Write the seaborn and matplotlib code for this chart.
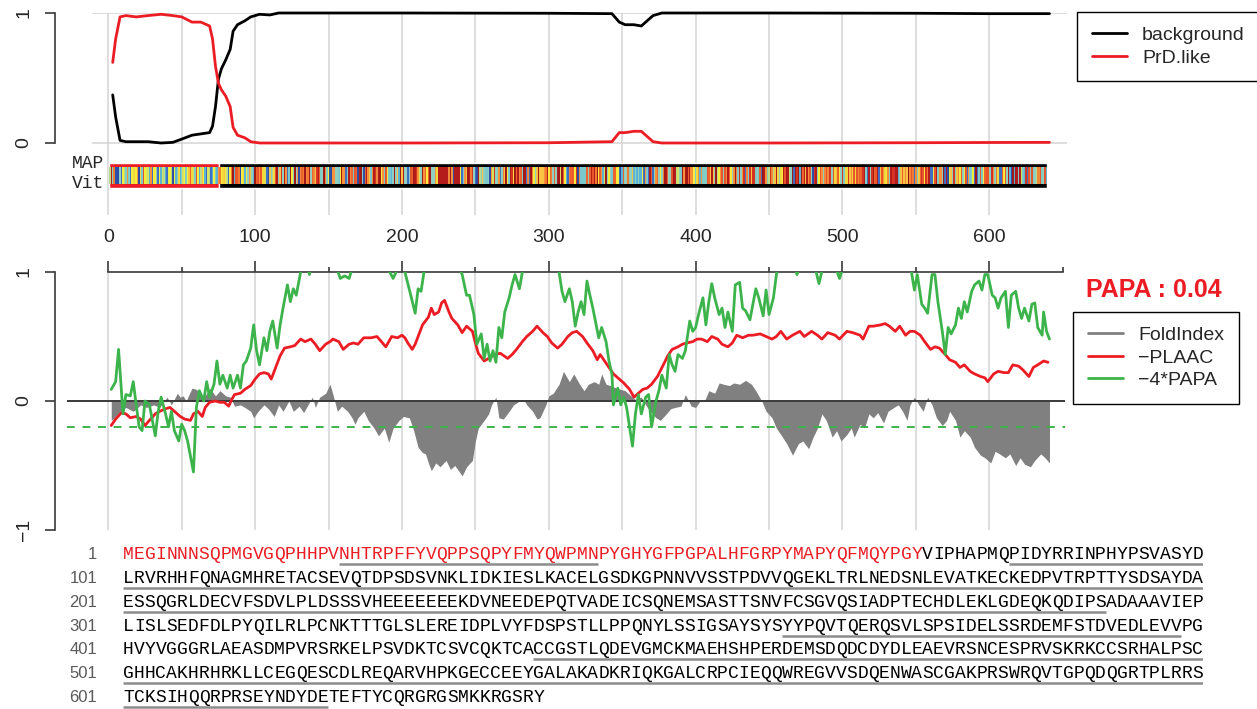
import seaborn as sns
import matplotlib.pyplot as plt
from matplotlib.lines import Line2D
import numpy as np
import pandas as pd

# sequence, 100 residues per printed line
seq_lines = [
    "MEGINNNSQPMGVGQPHHPVNHTRPFFYVQPPSQPYFMYQWPMNPYGHYGFPGPALHFGRPYMAPYQFMQYPGYVIPHAPMQPIDYRRINPHYPSVASYD",
    "LRVRHHFQNAGMHRETACSEVQTDPSDSVNKLIDKIESLKACELGSDKGPNNVVSSTPDVVQGEKLTRLNEDSNLEVATKECKEDPVTRPTTYSDSAYDA",
    "ESSQGRLDECVFSDVLPLDSSSVHEEEEEEEKDVNEEDEPQTVADEICSQNEMSASTTSNVFCSGVQSIADPTECHDLEKLGDEQKQDIPSADAAAVIEP",
    "LISLSEDFDLPYQILRLPCNKTTTGLSLEREIDPLVYFDSPSTLLPPQNYLSSIGSAYSYSYYPQVTQERQSVLSPSIDELSSRDEMFSTDVEDLEVVPG",
    "HVYVGGGRLAEASDMPVRSRKELPSVDKTCSVCQKTCACCGSTLQDEVGMCKMAEHSHPERDEMSDQDCDYDLEAEVRSNCESPRVSKRKCCSRHALPSC",
    "GHHCAKHRHRKLLCEGQESCDLREQARVHPKGECCEEYGALAKADKRIQKGALCRPCIEQQWREGVVSDQENWASCGAKPRSWRQVTGPQDQGRTPLRRS",
    "TCKSIHQQRPRSEYNDYDETEFTYCQRGRGSMKKRGSRY",
]
sequence = "".join(seq_lines)
prd_end = 74
underlined = [(21, 44), (83, 100), (101, 200), (201, 291), (362, 398),
              (439, 500), (501, 600), (601, 619)]
papa_score = 0.04
papa_cut = -0.2

# HMM posteriors (top panel)
hmm_pos = [3, 5, 8, 12, 19, 27, 36, 44, 50, 57,
           63, 69, 71, 73, 75, 77, 80, 83, 85, 88,
           93, 97, 103, 110, 116, 200, 300, 343, 348, 352,
           358, 363, 367, 371, 377, 450, 550, 600, 641]
background = [0.37, 0.20, 0.02, 0.01, 0.01, 0.01, 0.00, 0.005, 0.03, 0.06,
              0.07, 0.08, 0.13, 0.28, 0.49, 0.57, 0.64, 0.72, 0.86, 0.91,
              0.94, 0.97, 0.99, 0.985, 1.0, 1.0, 0.998, 0.995, 0.93, 0.91,
              0.91, 0.90, 0.94, 0.98, 1.0, 1.0, 0.998, 0.995, 0.995]
prd_like = [0.62, 0.80, 0.97, 0.98, 0.97, 0.98, 0.99, 0.98, 0.97, 0.93,
            0.93, 0.90, 0.80, 0.59, 0.46, 0.41, 0.36, 0.28, 0.12, 0.06,
            0.04, 0.01, 0.0, 0.0, 0.0, 0.0, 0.002, 0.01, 0.08, 0.08,
            0.09, 0.09, 0.05, 0.01, 0.0, 0.0, 0.002, 0.004, 0.005]

# -PLAAC
plaac_pos = [2, 5, 9, 12, 15, 19, 22, 25, 28, 32,
             35, 39, 42, 45, 49, 52, 56, 58, 61, 64,
             66, 69, 73, 76, 79, 82, 84, 86, 90, 93,
             97, 100, 103, 106, 109, 111, 114, 117, 120, 124,
             127, 131, 134, 138, 141, 144, 148, 151, 153, 157,
             160, 164, 167, 170, 174, 179, 183, 186, 189, 191,
             193, 197, 200, 202, 204, 207, 209, 211, 214, 218,
             220, 222, 225, 227, 229, 232, 234, 238, 241, 244,
             248, 250, 252, 256, 259, 263, 267, 272, 275, 278,
             282, 285, 289, 292, 296, 299, 302, 306, 309, 313,
             316, 319, 323, 326, 330, 333, 335, 338, 341, 344,
             348, 351, 355, 358, 360, 364, 367, 370, 374, 378,
             381, 384, 388, 391, 394, 398, 401, 404, 408, 411,
             415, 418, 422, 425, 428, 432, 436, 439, 444, 448,
             452, 455, 458, 462, 466, 471, 474, 479, 483, 486,
             490, 495, 498, 503, 507, 512, 514, 518, 521, 526,
             529, 532, 536, 539, 543, 546, 549, 553, 556, 560,
             563, 566, 570, 573, 577, 580, 583, 587, 590, 594,
             597, 599, 603, 606, 610, 613, 616, 620, 623, 627,
             630, 633, 637, 640]
plaac_vals = [-0.19, -0.14, -0.09, -0.10, -0.13, -0.12, -0.14, -0.19, -0.15, -0.10,
              -0.08, -0.06, -0.05, -0.08, -0.12, -0.14, -0.15, -0.10, -0.08, -0.12,
              -0.05, -0.01, 0.00, -0.01, -0.01, -0.04, 0.01, 0.05, 0.06, 0.09,
              0.12, 0.17, 0.21, 0.22, 0.21, 0.17, 0.26, 0.35, 0.41, 0.42,
              0.43, 0.48, 0.46, 0.48, 0.44, 0.39, 0.44, 0.46, 0.48, 0.46,
              0.40, 0.44, 0.45, 0.44, 0.49, 0.49, 0.50, 0.46, 0.42, 0.46,
              0.50, 0.49, 0.51, 0.49, 0.45, 0.40, 0.44, 0.50, 0.59, 0.65,
              0.72, 0.67, 0.69, 0.76, 0.78, 0.69, 0.64, 0.59, 0.53, 0.58,
              0.54, 0.45, 0.37, 0.31, 0.33, 0.36, 0.37, 0.33, 0.36, 0.40,
              0.46, 0.50, 0.54, 0.58, 0.53, 0.50, 0.45, 0.41, 0.44, 0.50,
              0.53, 0.54, 0.50, 0.45, 0.39, 0.32, 0.36, 0.31, 0.26, 0.21,
              0.17, 0.14, 0.09, 0.03, 0.05, 0.09, 0.10, 0.13, 0.19, 0.28,
              0.35, 0.40, 0.42, 0.44, 0.45, 0.46, 0.48, 0.48, 0.46, 0.50,
              0.48, 0.44, 0.42, 0.45, 0.51, 0.49, 0.51, 0.51, 0.52, 0.50,
              0.48, 0.50, 0.54, 0.48, 0.51, 0.54, 0.50, 0.54, 0.51, 0.48,
              0.53, 0.51, 0.48, 0.54, 0.53, 0.51, 0.48, 0.58, 0.58, 0.59,
              0.60, 0.58, 0.54, 0.58, 0.51, 0.54, 0.54, 0.51, 0.46, 0.40,
              0.42, 0.41, 0.36, 0.32, 0.30, 0.26, 0.28, 0.23, 0.21, 0.19,
              0.18, 0.15, 0.21, 0.23, 0.22, 0.22, 0.28, 0.27, 0.24, 0.19,
              0.26, 0.28, 0.31, 0.30]

# -4*PAPA (values above 1 run off the top of the panel)
papa_pos = [2, 5, 7, 10, 12, 15, 17, 19, 21, 23,
            25, 28, 30, 32, 34, 36, 39, 41, 43, 45,
            48, 50, 52, 54, 58, 60, 62, 65, 67, 69,
            72, 74, 76, 78, 81, 83, 85, 88, 90, 92,
            94, 97, 99, 101, 103, 106, 108, 110, 112, 115,
            117, 119, 122, 124, 126, 128, 131, 134, 137, 140,
            145, 150, 155, 158, 161, 164, 168, 175, 182, 188,
            194, 198, 202, 206, 209, 211, 213, 215, 220, 228,
            235, 241, 244, 246, 249, 251, 254, 256, 258, 260,
            262, 264, 266, 268, 270, 273, 275, 277, 280, 282,
            288, 295, 302, 307, 309, 311, 314, 316, 318, 320,
            322, 324, 326, 328, 330, 334, 336, 339, 341, 343,
            344, 347, 349, 351, 353, 355, 357, 359, 361, 363,
            366, 368, 370, 373, 375, 377, 380, 382, 384, 386,
            388, 391, 393, 396, 398, 400, 402, 405, 407, 409,
            411, 413, 416, 418, 420, 422, 425, 427, 430, 432,
            434, 437, 441, 443, 446, 448, 450, 453, 455, 458,
            465, 469, 473, 480, 484, 488, 494, 498, 502, 510,
            520, 530, 540, 547, 549, 551, 554, 556, 558, 561,
            563, 565, 568, 570, 572, 574, 577, 579, 581, 583,
            585, 588, 590, 593, 595, 597, 599, 602, 604, 606,
            608, 611, 613, 615, 618, 620, 622, 624, 627, 629,
            631, 633, 636, 637, 639, 641]
papa_vals = [0.09, 0.15, 0.40, -0.10, 0.05, 0.04, 0.15, -0.03, -0.20, -0.23,
             0.00, -0.03, -0.15, -0.27, -0.08, 0.03, -0.10, -0.20, -0.08, -0.23,
             -0.31, -0.18, -0.23, -0.31, -0.55, -0.05, 0.08, 0.00, 0.15, 0.03,
             0.13, 0.31, 0.13, 0.20, 0.10, 0.20, 0.10, 0.20, 0.10, 0.28,
             0.31, 0.41, 0.59, 0.39, 0.28, 0.49, 0.39, 0.54, 0.62, 0.41,
             0.59, 0.72, 0.90, 0.77, 0.87, 0.82, 1.00, 1.12, 0.98, 1.15,
             1.20, 1.10, 1.05, 0.95, 0.97, 0.95, 1.10, 1.20, 1.15, 1.08,
             0.95, 1.05, 1.00, 0.82, 0.68, 0.87, 0.85, 1.00, 1.15, 1.25,
             1.15, 0.98, 0.82, 0.82, 0.67, 0.44, 0.52, 0.33, 0.44, 0.31,
             0.39, 0.30, 0.57, 0.49, 0.69, 0.80, 0.90, 0.98, 0.87, 1.00,
             1.15, 1.20, 1.10, 1.00, 0.85, 0.77, 0.87, 0.77, 0.58, 0.69,
             0.77, 0.67, 0.93, 0.82, 0.72, 0.49, 0.57, 0.46, 0.31, 0.21,
             -0.03, 0.10, -0.03, 0.03, -0.05, -0.20, -0.35, -0.10, 0.05, -0.10,
             0.03, 0.05, -0.20, 0.00, 0.08, 0.20, 0.10, 0.36, 0.28, 0.23,
             0.36, 0.33, 0.39, 0.62, 0.54, 0.57, 0.67, 0.80, 0.59, 0.77,
             0.91, 0.80, 0.67, 0.72, 0.57, 0.69, 0.54, 0.90, 0.92, 0.72,
             0.70, 0.63, 0.87, 0.80, 0.66, 0.86, 0.67, 0.80, 0.98, 1.10,
             1.15, 0.98, 1.12, 1.10, 0.91, 1.10, 1.08, 0.95, 1.10, 1.20,
             1.25, 1.20, 1.10, 1.00, 0.86, 0.98, 0.75, 0.72, 0.68, 0.98,
             0.98, 0.77, 0.54, 0.36, 0.57, 0.52, 0.59, 0.72, 0.64, 0.77,
             0.69, 0.85, 0.90, 0.93, 0.86, 0.98, 0.98, 0.82, 0.80, 0.72,
             0.80, 0.85, 0.57, 0.82, 0.85, 0.72, 0.64, 0.72, 0.62, 0.75,
             0.76, 0.57, 0.51, 0.69, 0.54, 0.48]

# FoldIndex
fold_pos = [2, 4, 8, 12, 17, 22, 26, 31, 35, 40,
            43, 47, 49, 51, 53, 57, 60, 63, 66, 69,
            73, 76, 80, 83, 86, 90, 93, 97, 99, 102,
            106, 109, 113, 116, 119, 123, 126, 130, 133, 136,
            139, 141, 144, 148, 151, 153, 156, 159, 163, 166,
            168, 170, 174, 177, 181, 184, 188, 191, 194, 198,
            201, 205, 208, 211, 214, 216, 218, 220, 223, 226,
            230, 233, 236, 241, 244, 248, 250, 252, 256, 259,
            261, 264, 266, 269, 273, 276, 280, 283, 285, 289,
            292, 294, 298, 300, 303, 307, 310, 314, 317, 321,
            324, 327, 331, 334, 336, 339, 342, 346, 349, 352,
            356, 359, 363, 366, 369, 373, 376, 380, 383, 386,
            390, 393, 397, 400, 403, 406, 409, 413, 416, 419,
            423, 426, 430, 434, 438, 441, 445, 448, 452, 455,
            458, 462, 466, 470, 473, 477, 480, 483, 486, 489,
            493, 496, 499, 503, 506, 508, 512, 515, 518, 521,
            524, 528, 531, 535, 538, 541, 544, 546, 549, 552,
            555, 558, 561, 564, 568, 571, 573, 577, 580, 583,
            587, 590, 594, 597, 601, 604, 607, 611, 614, 618,
            621, 624, 628, 631, 635, 638, 641]
fold_vals = [-0.15, -0.13, -0.08, -0.05, -0.08, -0.03, -0.05, -0.03, -0.05, 0.03,
             -0.03, 0.06, 0.03, 0.04, 0.00, 0.10, 0.09, 0.05, 0.04, 0.10,
             0.04, 0.08, 0.04, 0.03, -0.04, -0.03, -0.05, -0.08, -0.13, -0.08,
             -0.03, -0.06, -0.12, -0.03, -0.08, 0.00, -0.08, -0.04, -0.09, -0.03,
             0.03, -0.05, 0.03, 0.06, 0.13, 0.05, -0.08, -0.04, -0.08, -0.13,
             -0.18, -0.13, -0.08, -0.15, -0.21, -0.27, -0.21, -0.32, -0.21, -0.15,
             -0.12, -0.13, -0.23, -0.36, -0.40, -0.41, -0.48, -0.54, -0.48, -0.51,
             -0.46, -0.53, -0.50, -0.58, -0.51, -0.46, -0.31, -0.21, -0.15, -0.10,
             -0.03, 0.03, -0.13, -0.14, -0.08, -0.03, 0.00, 0.01, -0.03, -0.08,
             -0.14, -0.13, -0.03, 0.04, 0.06, 0.13, 0.23, 0.15, 0.21, 0.13,
             0.08, 0.13, 0.15, 0.13, 0.21, 0.13, 0.12, 0.10, 0.09, 0.08,
             0.04, 0.01, 0.03, -0.03, -0.08, -0.13, -0.15, -0.10, -0.06, -0.05,
             -0.04, 0.05, -0.04, -0.05, 0.00, 0.00, 0.08, 0.06, 0.14, 0.13,
             0.12, 0.14, 0.13, 0.16, 0.13, 0.08, 0.00, -0.08, -0.13, -0.21,
             -0.26, -0.33, -0.42, -0.33, -0.31, -0.37, -0.28, -0.21, -0.10, -0.15,
             -0.28, -0.23, -0.31, -0.26, -0.21, -0.28, -0.18, -0.21, -0.10, -0.13,
             -0.09, -0.17, -0.08, -0.05, -0.03, -0.08, -0.15, -0.03, 0.03, -0.03,
             -0.08, 0.03, -0.03, -0.13, -0.19, -0.15, -0.08, -0.15, -0.28, -0.23,
             -0.28, -0.36, -0.42, -0.44, -0.48, -0.39, -0.41, -0.44, -0.41, -0.50,
             -0.44, -0.49, -0.51, -0.46, -0.41, -0.44, -0.48]

# colour of each residue in the MAP/Vit strip
aa_colors = {
    'N': '#2b4fa8', 'Q': '#3f6fc4', 'Y': '#5ab4d6', 'G': '#7fcdc4', 'S': '#8fd0c0',
    'M': '#b9dd86', 'F': '#d6e35f', 'W': '#e6e84a', 'P': '#f5ec3b', 'H': '#f3d83d',
    'A': '#f8c243', 'T': '#79c9cf', 'V': '#f7913a', 'I': '#f27a33', 'L': '#ec632d',
    'R': '#e8552a', 'C': '#d63423', 'K': '#f08a3a', 'E': '#b41c1c', 'D': '#a01818',
}

RED = '#ec1c24'
GREEN = '#3cb44b'
GRID = '#d4d4d4'
AXC = '#3a3a3a'

sns.set_style('white')
plt.rcParams['font.family'] = ['Liberation Sans', 'DejaVu Sans']

W, H = 1257, 709
fig = plt.figure(figsize=(W / 100, H / 100), dpi=100)


def box(x0, y0, x1, y1):
    return [x0 / W, 1 - y1 / H, (x1 - x0) / W, (y1 - y0) / H]


x_zero, px_res = 108.3, 1.4683


def to_pos(px):
    return (px - x_zero) / px_res


# ---------- top panel: HMM ----------
ax_top = fig.add_axes(box(92, 13, 1067, 214.5))
ax_top.set_xlim(to_pos(92), to_pos(1067))
ax_top.set_ylim(-0.55, 1.0)
for g in range(0, 601, 50):
    ax_top.axvline(g, color=GRID, lw=1.1, zorder=0)
for g in (0, 1):
    ax_top.axhline(g, color=GRID, lw=1.1, zorder=0)

df_hmm = pd.DataFrame({'pos': hmm_pos, 'background': background, 'PrD.like': prd_like})
sns.lineplot(data=df_hmm, x='pos', y='background', color='black', lw=2, ax=ax_top, clip_on=False)
sns.lineplot(data=df_hmm, x='pos', y='PrD.like', color=RED, lw=2, ax=ax_top, clip_on=False)

n = len(sequence)
ax_top.broken_barh([(0.5, prd_end + 1)], (-0.346, 0.192), facecolors=RED, zorder=3)
ax_top.broken_barh([(prd_end + 1.5, n - prd_end - 1)], (-0.346, 0.192), facecolors='black', zorder=3)
ax_top.bar(np.arange(1, n + 1), 0.13, bottom=-0.315, width=1.0,
           color=[aa_colors[a] for a in sequence], linewidth=0, zorder=4)

for s in ('top', 'right', 'bottom'):
    ax_top.spines[s].set_visible(False)
ax_top.spines['left'].set_position(('outward', 26.6))
ax_top.spines['left'].set_bounds(0, 1)
ax_top.spines['left'].set_color(AXC)
ax_top.spines['left'].set_linewidth(1.2)
ax_top.set_xticks([])
ax_top.set_yticks([0, 1], labels=['0', '1'], rotation=90, va='center')
ax_top.tick_params(axis='y', direction='out', length=7.2, width=1.2, color=AXC,
                   labelsize=14, pad=9, left=True)
ax_top.set_xlabel('')
ax_top.set_ylabel('')

fig.text(104 / W, 1 - 163 / H, 'MAP', family='Liberation Mono', fontsize=13, ha='right', va='center')
fig.text(104 / W, 1 - 184 / H, 'Vit', family='Liberation Mono', fontsize=13, ha='right', va='center')

# ---------- lower panel ----------
ax_low = fig.add_axes(box(67, 272, 1065, 530))
ax_low.set_xlim(to_pos(67), to_pos(1065))
ax_low.set_ylim(-1, 1)
for g in range(0, 601, 50):
    ax_low.axvline(g, color=GRID, lw=1.1, zorder=0)

ax_low.fill_between(fold_pos, 0, fold_vals, color='#808080', lw=0, zorder=1)
ax_low.axhline(0, color=AXC, lw=1.4, zorder=2)
ax_low.axhline(papa_cut, color=GREEN, lw=1.4, ls=(0, (4, 4)), zorder=2)
df_plaac = pd.DataFrame({'pos': plaac_pos, 'val': plaac_vals})
df_papa = pd.DataFrame({'pos': papa_pos, 'val': papa_vals})
sns.lineplot(data=df_plaac, x='pos', y='val', color=RED, lw=2, ax=ax_low, zorder=3)
sns.lineplot(data=df_papa, x='pos', y='val', color=GREEN, lw=2, ax=ax_low, zorder=4)

ax_low.spines['right'].set_visible(False)
ax_low.spines['bottom'].set_visible(False)
ax_low.spines['left'].set_position(('outward', 8.6))
ax_low.spines['left'].set_bounds(-1, 1)
ax_low.spines['top'].set_bounds(0, 650)
for s in ('left', 'top'):
    ax_low.spines[s].set_color(AXC)
    ax_low.spines[s].set_linewidth(1.2)
ax_low.xaxis.set_ticks_position('top')
ax_low.set_xticks(range(0, 601, 100))
ax_low.set_xticks(range(50, 651, 100), minor=True)
ax_low.tick_params(axis='x', which='major', direction='out', length=8, width=1.2,
                   color=AXC, labelsize=14, pad=11)
ax_low.tick_params(axis='x', which='minor', direction='out', length=3.6, width=1.2, color=AXC)
ax_low.set_yticks([-1, 0, 1], labels=['\u22121', '0', '1'], rotation=90, va='center')
ax_low.tick_params(axis='y', direction='out', length=7.2, width=1.2, color=AXC,
                   labelsize=14, pad=9, left=True)
ax_low.set_xlabel('')
ax_low.set_ylabel('')

fig.text(1154 / W, 1 - 290 / H, 'PAPA : %.2f' % papa_score, color=RED, fontsize=18,
         fontweight='bold', ha='center', va='center')

# ---------- legends ----------
leg_kw = dict(loc='upper left', frameon=True, fancybox=False, edgecolor='black', framealpha=1,
              fontsize=14, handlelength=1.8, handletextpad=0.8, borderpad=0.75,
              labelspacing=0.25, borderaxespad=0)
leg1 = fig.legend([Line2D([], [], color='black', lw=2), Line2D([], [], color=RED, lw=2)],
                  ['background', 'PrD.like'], bbox_to_anchor=(1077 / W, 1 - 12 / H), **leg_kw)
leg2 = fig.legend([Line2D([], [], color='#808080', lw=2), Line2D([], [], color=RED, lw=2),
                   Line2D([], [], color=GREEN, lw=2)],
                  ['FoldIndex', '\u2212PLAAC', '\u22124*PAPA'],
                  bbox_to_anchor=(1073 / W, 1 - 312 / H), **leg_kw)
for lg in (leg1, leg2):
    lg.get_frame().set_linewidth(1.0)

# ---------- sequence ----------
ax_seq = fig.add_axes(box(123, 543, 1203, 709))
ax_seq.set_xlim(0, 100)
ax_seq.set_ylim(6.498, -0.506)
ax_seq.axis('off')
# one glyph per column, so every column sits exactly on the 100-residue grid
for k, aa in enumerate(sequence):
    row, col = divmod(k, 100)
    ax_seq.text(col + 0.5, row, aa, ha='center', va='center', fontsize=13,
                family='Liberation Mono', color=RED if k < prd_end else 'black')
for i in range(len(seq_lines)):
    ax_seq.text(-2.4, i, str(i * 100 + 1), ha='right', va='center', fontsize=12, color='#5a5a5a')
for s, e in underlined:
    row = (s - 1) // 100
    c0 = (s - 1) % 100
    c1 = (e - 1) % 100 + 1
    ax_seq.plot([c0, c1], [row + 0.4, row + 0.4], color='#8c8c8c', lw=1.8,
                solid_capstyle='butt')

fig.savefig('out.png', dpi=100)
